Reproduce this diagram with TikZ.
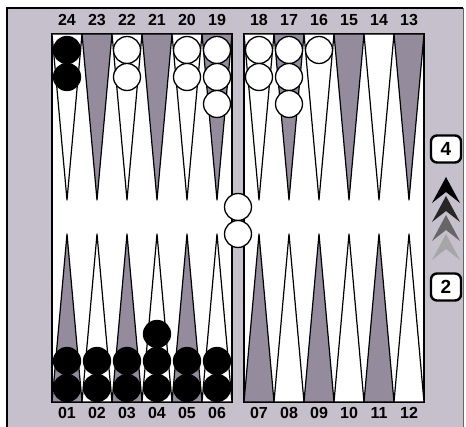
\documentclass[tikz,border=0pt]{standalone}
\usepackage{fontspec}
\setmainfont{Liberation Sans}
\usetikzlibrary{positioning}
\definecolor{boardbg}{RGB}{198,192,204}
\definecolor{pointgray}{RGB}{148,140,156}

\begin{document}
\begin{tikzpicture}[x=1pt,y=-1pt,
    num/.style={font=\bfseries\fontsize{16}{16}\selectfont,inner sep=0pt},
    wpt/.style={draw=black,line width=1.2pt,fill=white,line join=round},
    gpt/.style={wpt,fill=pointgray},
    wchk/.style={circle,draw=black,line width=1.3pt,fill=white,minimum size=27pt,inner sep=0pt},
    bchk/.style={wchk,fill=black},
    cube/.style={draw,line width=2.4pt,rounded corners=6pt,fill=white,minimum width=30pt,minimum height=27pt,inner sep=0pt,font=\bfseries\fontsize{19}{19}\selectfont}]
        \useasboundingbox (0,0) rectangle (466,427);
        \fill[white] (0,0) rectangle (466,427);
        \fill[boardbg] (7,8) rectangle (463,427);
        \draw[line width=1.5pt] (7,427) -- (7,8) -- (463,8);
        \draw[line width=0.6pt,black!60] (463,8) -- (463,427);
        % the two halves of the board
        \draw[fill=white,line width=1.2pt] (52,34) rectangle (232,402);
        \draw[fill=white,line width=1.2pt] (244,34) rectangle (424,402);
        % points and their numbers
        \foreach \bx/\tn/\bn in {52/24/1,244/18/7}
            \foreach \i/\ts/\bs in {0/wpt/gpt,1/gpt/wpt,2/wpt/gpt,3/gpt/wpt,4/wpt/gpt,5/gpt/wpt} {
                \pgfmathsetmacro{\xa}{\bx+30*\i}
                \pgfmathtruncatemacro{\tl}{\tn-\i}
                \pgfmathtruncatemacro{\bl}{\bn+\i}
                \draw[\ts] (\xa,34) -- (\xa+15,200) -- (\xa+30,34) -- cycle;
                \draw[\bs] (\xa,402) -- (\xa+15,234) -- (\xa+30,402) -- cycle;
                \node[num] (top\tl) at (\xa+15,20) {\tl};
                \node[num] (bot\bl) at (\xa+15,413) {\ifnum\bl<10 0\fi\bl};
            }
        % checkers
        \foreach \cx/\n in {67/2} \foreach \k in {1,...,\n}
            \node[bchk] (b24-\k) at (\cx,23+27*\k) {};
        \foreach \cx/\n/\p in {127/2/22,187/2/20,217/3/19,259/2/18,289/3/17,319/1/16} \foreach \k in {1,...,\n}
            \node[wchk] (w\p-\k) at (\cx,23+27*\k) {};
        \foreach \cx/\n/\p in {67/2/1,97/2/2,127/2/3,157/3/4,187/2/5,217/2/6} \foreach \k in {1,...,\n}
            \node[bchk] (b\p-\k) at (\cx,415-27*\k) {};
        \node[wchk] (bar1) at (238,207) {};
        \node[wchk] (bar2) at (238,234) {};
        % cube and arrows
        \node[cube] (cube4) at (446,149) {4};
        \node[cube] (cube2) at (446,287) {2};
        \foreach \ty/\c in {234/black!35,215/black!60,196/black!85,177/black}
            \fill[\c] (446,\ty) -- (460,\ty+26) -- (446,\ty+15) -- (432,\ty+26) -- cycle;
    \end{tikzpicture}
\end{document}
